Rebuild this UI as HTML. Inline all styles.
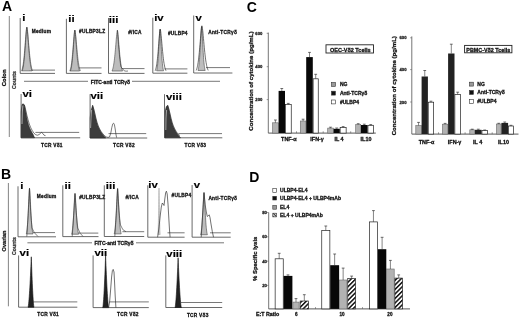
<!DOCTYPE html><html><head><meta charset="utf-8"><style>html,body{margin:0;padding:0;background:#fff;}svg{display:block;filter:blur(0.3px);}text{font-family:"Liberation Sans", sans-serif;}</style></head><body>
<svg width="520" height="319" viewBox="0 0 520 319">
<rect width="520" height="319" fill="#fff"/>
<defs><pattern id="hatch" patternUnits="userSpaceOnUse" width="3.2" height="3.2" patternTransform="rotate(45)"><rect width="3.2" height="3.2" fill="#fff"/><rect width="1.5" height="3.2" fill="#111"/></pattern><pattern id="hatch2" patternUnits="userSpaceOnUse" width="2.2" height="2.2" patternTransform="rotate(-45)"><rect width="2.2" height="2.2" fill="#fff"/><rect width="1.0" height="2.2" fill="#111"/></pattern></defs>
<text x="2" y="11.3" font-size="14" font-weight="bold" text-anchor="start" fill="#000">A</text>
<line x1="9.3" y1="16" x2="9.3" y2="137" stroke="#666" stroke-width="0.8"/>
<text x="6.0" y="77.8" font-size="6" font-weight="bold" text-anchor="middle" fill="#111" stroke="#111" stroke-width="0.28" transform="rotate(-90 6.0 77.8)">Colon</text>
<text x="16.2" y="80" font-size="5.2" font-weight="bold" text-anchor="middle" fill="#333" stroke="#333" stroke-width="0.28" transform="rotate(-90 16.2 80)">Counts</text>
<line x1="24" y1="81.3" x2="88" y2="81.3" stroke="#555" stroke-width="0.8"/>
<line x1="132" y1="81.3" x2="220" y2="81.3" stroke="#555" stroke-width="0.8"/>
<text x="110.4" y="83.6" font-size="5.0" font-weight="bold" text-anchor="middle" fill="#111" stroke="#111" stroke-width="0.28">FITC-anti TCRγδ</text>
<line x1="20.2" y1="18" x2="20.2" y2="73.4" stroke="#444" stroke-width="0.8"/>
<line x1="20.2" y1="73.4" x2="55" y2="73.4" stroke="#444" stroke-width="0.8"/>
<line x1="29" y1="70.1" x2="55" y2="70.1" stroke="#555" stroke-width="0.8"/>
<text transform="translate(22.3 21.3) scale(1.2 1)" font-size="9.5" font-weight="bold" fill="#000" stroke="#000" stroke-width="0.15">i</text>
<text x="31.700000000000003" y="32.8" font-size="4.8" font-weight="bold" text-anchor="start" fill="#111" stroke="#111" stroke-width="0.28" letter-spacing="0.25">Medium</text>
<line x1="66.4" y1="18.8" x2="66.4" y2="73.4" stroke="#444" stroke-width="0.8"/>
<line x1="66.4" y1="73.4" x2="101.5" y2="73.4" stroke="#444" stroke-width="0.8"/>
<line x1="78.5" y1="67.9" x2="101.5" y2="67.9" stroke="#555" stroke-width="0.8"/>
<text transform="translate(68.3 22) scale(1.2 1)" font-size="9.5" font-weight="bold" fill="#000" stroke="#000" stroke-width="0.15">ii</text>
<text x="79.1" y="33" font-size="4.8" font-weight="bold" text-anchor="start" fill="#111" stroke="#111" stroke-width="0.28" letter-spacing="0.25">#ULBP3LZ</text>
<line x1="108.5" y1="18" x2="108.5" y2="73.4" stroke="#444" stroke-width="0.8"/>
<line x1="108.5" y1="73.4" x2="144.5" y2="73.4" stroke="#444" stroke-width="0.8"/>
<line x1="120" y1="68.6" x2="144.5" y2="68.6" stroke="#555" stroke-width="0.8"/>
<text transform="translate(108.8 22.5) scale(1.2 1)" font-size="9.5" font-weight="bold" fill="#000" stroke="#000" stroke-width="0.15">iii</text>
<text x="128.2" y="34" font-size="4.8" font-weight="bold" text-anchor="start" fill="#111" stroke="#111" stroke-width="0.28" letter-spacing="0.25">#/ICA</text>
<line x1="152.8" y1="17.7" x2="152.8" y2="73.2" stroke="#444" stroke-width="0.8"/>
<line x1="152.8" y1="73.2" x2="187.4" y2="73.2" stroke="#444" stroke-width="0.8"/>
<line x1="164.5" y1="68.9" x2="187.4" y2="68.9" stroke="#555" stroke-width="0.8"/>
<text transform="translate(154.2 21.4) scale(1.2 1)" font-size="9.5" font-weight="bold" fill="#000" stroke="#000" stroke-width="0.15">iv</text>
<text x="167.9" y="34.5" font-size="4.8" font-weight="bold" text-anchor="start" fill="#111" stroke="#111" stroke-width="0.28" letter-spacing="0.25">#ULBP4</text>
<line x1="193.7" y1="15.5" x2="193.7" y2="73.0" stroke="#444" stroke-width="0.8"/>
<line x1="193.7" y1="73.0" x2="232.4" y2="73.0" stroke="#444" stroke-width="0.8"/>
<line x1="206" y1="67.6" x2="230" y2="67.6" stroke="#555" stroke-width="0.8"/>
<text transform="translate(195.6 21.4) scale(1.2 1)" font-size="9.5" font-weight="bold" fill="#000" stroke="#000" stroke-width="0.15">v</text>
<text x="208.2" y="34.4" font-size="4.8" font-weight="bold" text-anchor="start" fill="#111" stroke="#111" stroke-width="0.28" letter-spacing="0.25">Anti-TCRγδ</text>
<path d="M21.60,70.85 L21.82,70.32 L22.03,69.69 L22.25,68.95 L22.47,68.09 L22.68,67.11 L22.90,65.97 L23.12,64.69 L23.33,63.23 L23.55,61.60 L23.77,59.79 L23.98,57.79 L24.20,55.61 L24.42,53.26 L24.63,50.74 L24.85,48.08 L25.07,45.32 L25.28,42.48 L25.50,39.63 L25.72,36.82 L25.93,34.14 L26.15,31.68 L26.37,29.55 L26.58,27.92 L26.80,27.10 L27.02,27.92 L27.23,29.55 L27.45,31.68 L27.67,34.14 L27.88,36.82 L28.10,39.63 L28.32,42.48 L28.53,45.32 L28.75,48.08 L28.97,50.74 L29.18,53.26 L29.40,55.61 L29.62,57.79 L29.83,59.79 L30.05,61.60 L30.27,63.23 L30.48,64.69 L30.70,65.97 L30.92,67.11 L31.13,68.09 L31.35,68.95 L31.57,69.69 L31.78,70.32 L32.00,70.85 Z" fill="#bdbdbd" stroke="#444" stroke-width="0.6"/>
<path d="M22.20,70.86 L22.40,70.33 L22.59,69.70 L22.79,68.97 L22.98,68.12 L23.18,67.13 L23.38,66.01 L23.57,64.72 L23.77,63.27 L23.96,61.65 L24.16,59.85 L24.35,57.86 L24.55,55.69 L24.75,53.34 L24.94,50.84 L25.14,48.19 L25.33,45.44 L25.53,42.62 L25.72,39.78 L25.92,36.98 L26.12,34.31 L26.31,31.86 L26.51,29.74 L26.70,28.12 L26.90,27.30 L27.14,28.12 L27.38,29.74 L27.61,31.86 L27.85,34.31 L28.09,36.98 L28.32,39.78 L28.56,42.62 L28.80,45.44 L29.04,48.19 L29.27,50.84 L29.51,53.34 L29.75,55.69 L29.99,57.86 L30.23,59.85 L30.46,61.65 L30.70,63.27 L30.94,64.72 L31.18,66.01 L31.41,67.13 L31.65,68.12 L31.89,68.97 L32.12,69.70 L32.36,70.33 L32.60,70.86" fill="none" stroke="#333" stroke-width="0.55"/>
<path d="M69.80,71.01 L70.01,70.51 L70.22,69.92 L70.42,69.23 L70.63,68.43 L70.84,67.50 L71.05,66.44 L71.26,65.23 L71.47,63.87 L71.67,62.34 L71.88,60.64 L72.09,58.77 L72.30,56.73 L72.51,54.52 L72.72,52.16 L72.92,49.67 L73.13,47.08 L73.34,44.42 L73.55,41.74 L73.76,39.11 L73.97,36.60 L74.17,34.29 L74.38,32.30 L74.59,30.77 L74.80,30.00 L75.00,30.77 L75.20,32.30 L75.40,34.29 L75.60,36.60 L75.80,39.11 L76.00,41.74 L76.20,44.42 L76.40,47.08 L76.60,49.67 L76.80,52.16 L77.00,54.52 L77.20,56.73 L77.40,58.77 L77.60,60.64 L77.80,62.34 L78.00,63.87 L78.20,65.23 L78.40,66.44 L78.60,67.50 L78.80,68.43 L79.00,69.23 L79.20,69.92 L79.40,70.51 L79.60,71.01 Z" fill="#bdbdbd" stroke="#444" stroke-width="0.6"/>
<path d="M70.40,71.02 L70.59,70.52 L70.78,69.93 L70.96,69.25 L71.15,68.45 L71.34,67.53 L71.53,66.47 L71.71,65.27 L71.90,63.91 L72.09,62.39 L72.28,60.70 L72.46,58.84 L72.65,56.80 L72.84,54.61 L73.03,52.26 L73.21,49.78 L73.40,47.20 L73.59,44.55 L73.78,41.89 L73.96,39.27 L74.15,36.77 L74.34,34.47 L74.53,32.49 L74.71,30.97 L74.90,30.20 L75.13,30.97 L75.37,32.49 L75.60,34.47 L75.83,36.77 L76.07,39.27 L76.30,41.89 L76.53,44.55 L76.77,47.20 L77.00,49.78 L77.23,52.26 L77.47,54.61 L77.70,56.80 L77.93,58.84 L78.17,60.70 L78.40,62.39 L78.63,63.91 L78.87,65.27 L79.10,66.47 L79.33,67.53 L79.57,68.45 L79.80,69.25 L80.03,69.93 L80.27,70.52 L80.50,71.02" fill="none" stroke="#333" stroke-width="0.55"/>
<path d="M112.00,71.02 L112.22,70.52 L112.45,69.93 L112.67,69.25 L112.90,68.45 L113.12,67.53 L113.35,66.47 L113.58,65.27 L113.80,63.91 L114.03,62.39 L114.25,60.70 L114.48,58.84 L114.70,56.80 L114.92,54.61 L115.15,52.26 L115.38,49.78 L115.60,47.20 L115.83,44.55 L116.05,41.89 L116.28,39.27 L116.50,36.77 L116.73,34.47 L116.95,32.49 L117.18,30.97 L117.40,30.20 L117.62,30.97 L117.83,32.49 L118.05,34.47 L118.27,36.77 L118.48,39.27 L118.70,41.89 L118.92,44.55 L119.13,47.20 L119.35,49.78 L119.57,52.26 L119.78,54.61 L120.00,56.80 L120.22,58.84 L120.43,60.70 L120.65,62.39 L120.87,63.91 L121.08,65.27 L121.30,66.47 L121.52,67.53 L121.73,68.45 L121.95,69.25 L122.17,69.93 L122.38,70.52 L122.60,71.02 Z" fill="#bdbdbd" stroke="#444" stroke-width="0.6"/>
<path d="M117.4,30.2 C118.2,40 119.5,60 121,67 L122.5,68.6 L124.2,70.8 L126,71.2 L128,71" fill="none" stroke="#333" stroke-width="0.6"/>
<path d="M156.60,70.79 L156.74,70.29 L156.88,69.69 L157.03,69.00 L157.17,68.19 L157.31,67.26 L157.45,66.19 L157.59,64.97 L157.73,63.60 L157.88,62.06 L158.02,60.35 L158.16,58.47 L158.30,56.41 L158.44,54.19 L158.58,51.81 L158.72,49.31 L158.87,46.69 L159.01,44.02 L159.15,41.33 L159.29,38.68 L159.43,36.14 L159.57,33.82 L159.72,31.81 L159.86,30.28 L160.00,29.50 L160.15,30.28 L160.30,31.81 L160.45,33.82 L160.60,36.14 L160.75,38.68 L160.90,41.33 L161.05,44.02 L161.20,46.69 L161.35,49.31 L161.50,51.81 L161.65,54.19 L161.80,56.41 L161.95,58.47 L162.10,60.35 L162.25,62.06 L162.40,63.60 L162.55,64.97 L162.70,66.19 L162.85,67.26 L163.00,68.19 L163.15,69.00 L163.30,69.69 L163.45,70.29 L163.60,70.79 Z" fill="#bdbdbd" stroke="#444" stroke-width="0.6"/>
<path d="M155.20,70.77 L155.41,70.26 L155.62,69.65 L155.82,68.95 L156.03,68.13 L156.24,67.19 L156.45,66.11 L156.66,64.88 L156.87,63.49 L157.07,61.93 L157.28,60.20 L157.49,58.30 L157.70,56.22 L157.91,53.97 L158.12,51.57 L158.32,49.03 L158.53,46.39 L158.74,43.68 L158.95,40.96 L159.16,38.28 L159.37,35.72 L159.57,33.37 L159.78,31.34 L159.99,29.79 L160.20,29.00 L160.44,29.79 L160.68,31.34 L160.92,33.37 L161.17,35.72 L161.41,38.28 L161.65,40.96 L161.89,43.68 L162.13,46.39 L162.38,49.03 L162.62,51.57 L162.86,53.97 L163.10,56.22 L163.34,58.30 L163.58,60.20 L163.82,61.93 L164.07,63.49 L164.31,64.88 L164.55,66.11 L164.79,67.19 L165.03,68.13 L165.28,68.95 L165.52,69.65 L165.76,70.26 L166.00,70.77" fill="none" stroke="#222" stroke-width="0.65"/>
<path d="M198.00,70.44 L198.15,69.90 L198.30,69.27 L198.45,68.53 L198.60,67.67 L198.75,66.68 L198.90,65.54 L199.05,64.25 L199.20,62.79 L199.35,61.15 L199.50,59.33 L199.65,57.32 L199.80,55.13 L199.95,52.77 L200.10,50.24 L200.25,47.57 L200.40,44.80 L200.55,41.95 L200.70,39.08 L200.85,36.26 L201.00,33.57 L201.15,31.10 L201.30,28.96 L201.45,27.33 L201.60,26.50 L201.75,27.33 L201.90,28.96 L202.05,31.10 L202.20,33.57 L202.35,36.26 L202.50,39.08 L202.65,41.95 L202.80,44.80 L202.95,47.57 L203.10,50.24 L203.25,52.77 L203.40,55.13 L203.55,57.32 L203.70,59.33 L203.85,61.15 L204.00,62.79 L204.15,64.25 L204.30,65.54 L204.45,66.68 L204.60,67.67 L204.75,68.53 L204.90,69.27 L205.05,69.90 L205.20,70.44 Z" fill="#bdbdbd" stroke="#444" stroke-width="0.6"/>
<path d="M196.20,70.40 L196.44,69.86 L196.67,69.21 L196.91,68.46 L197.15,67.59 L197.39,66.58 L197.62,65.43 L197.86,64.12 L198.10,62.63 L198.34,60.97 L198.57,59.12 L198.81,57.09 L199.05,54.87 L199.29,52.46 L199.53,49.90 L199.76,47.19 L200.00,44.37 L200.24,41.48 L200.47,38.57 L200.71,35.71 L200.95,32.98 L201.19,30.47 L201.43,28.30 L201.66,26.64 L201.90,25.80 L202.16,26.64 L202.43,28.30 L202.69,30.47 L202.95,32.98 L203.21,35.71 L203.47,38.57 L203.74,41.48 L204.00,44.37 L204.26,47.19 L204.53,49.90 L204.79,52.46 L205.05,54.87 L205.31,57.09 L205.57,59.12 L205.84,60.97 L206.10,62.63 L206.36,64.12 L206.62,65.43 L206.89,66.58 L207.15,67.59 L207.41,68.46 L207.67,69.21 L207.94,69.86 L208.20,70.40" fill="none" stroke="#222" stroke-width="0.65"/>
<line x1="21.1" y1="94" x2="21.1" y2="137.8" stroke="#444" stroke-width="0.8"/>
<line x1="21.1" y1="137.8" x2="80.2" y2="137.8" stroke="#444" stroke-width="0.8"/>
<line x1="35.4" y1="132.4" x2="79.2" y2="132.4" stroke="#555" stroke-width="0.8"/>
<text transform="translate(22.4 96.8) scale(1.2 1)" font-size="9.5" font-weight="bold" fill="#000" stroke="#000" stroke-width="0.15">vi</text>
<text x="41.0" y="146.6" font-size="4.8" font-weight="bold" text-anchor="start" fill="#111" stroke="#111" stroke-width="0.28" letter-spacing="0.25">TCR Vδ1</text>
<line x1="90.1" y1="94.2" x2="90.1" y2="138.0" stroke="#444" stroke-width="0.8"/>
<line x1="90.1" y1="138.0" x2="147.2" y2="138.0" stroke="#444" stroke-width="0.8"/>
<line x1="108.5" y1="133.6" x2="146.2" y2="133.6" stroke="#555" stroke-width="0.8"/>
<text transform="translate(90.4 99.3) scale(1.2 1)" font-size="9.5" font-weight="bold" fill="#000" stroke="#000" stroke-width="0.15">vii</text>
<text x="113.1" y="146.8" font-size="4.8" font-weight="bold" text-anchor="start" fill="#111" stroke="#111" stroke-width="0.28" letter-spacing="0.25">TCR Vδ2</text>
<line x1="164.5" y1="94.2" x2="164.5" y2="137.8" stroke="#444" stroke-width="0.8"/>
<line x1="164.5" y1="137.8" x2="222.3" y2="137.8" stroke="#444" stroke-width="0.8"/>
<line x1="178.5" y1="133.6" x2="222" y2="133.6" stroke="#555" stroke-width="0.8"/>
<text transform="translate(166 100.3) scale(1.2 1)" font-size="9.5" font-weight="bold" fill="#000" stroke="#000" stroke-width="0.15">viii</text>
<text x="184.5" y="147" font-size="4.8" font-weight="bold" text-anchor="start" fill="#111" stroke="#111" stroke-width="0.28" letter-spacing="0.25">TCR Vδ3</text>
<path d="M21.1,137.8 L21.1,112 L22.0,104.5 L23.3,103.8 L24.4,105 L25.4,110 L26.4,115.5 L27.4,120.5 L28.5,124.8 L29.8,128.3 L31.3,131.3 L32.9,134 L34.6,137.8 Z" fill="#3c3c3c" stroke="#222" stroke-width="0.5"/>
<path d="M22.0,124 L22.3,112 L22.9,105.5" fill="none" stroke="#ddd" stroke-width="0.7"/>
<path d="M24.4,105 L25.6,109.5 L26.8,115 L28,119.5 L29.3,124 L30.8,127.8 L32.4,130.8 L34,133.2 L35.8,134.8 L37.5,135.2 L39,134.6 L40.5,133.3 L41.6,132.4 L42.8,133.5 L44,135.2 L45.5,135.6" fill="none" stroke="#222" stroke-width="0.6"/>
<path d="M90.1,138 L90.1,118 L91.2,110 L92.6,105.3 L93.6,109 L94.6,113.5 L95.6,118 L96.6,122 L97.7,125.5 L99,128.5 L100.5,131.3 L102.2,133.8 L104,136 L105.8,138 Z" fill="#3c3c3c" stroke="#222" stroke-width="0.5"/>
<path d="M90.6,128 L91,118 L91.6,110" fill="none" stroke="#ccc" stroke-width="0.7"/>
<path d="M92.6,105.3 L93.9,109.5 L95,114 L96,118.5 L97.1,122.5 L98.3,126 L99.7,129 L101.3,131.8 L103,134 L104.8,136 L106.5,137 L108,137.4 L109.5,137 L110.8,133 L111.8,127.5 L112.8,123.8 L113.6,123.2 L114.4,124.5 L115.2,129 L115.9,134 L116.6,137.6" fill="none" stroke="#222" stroke-width="0.6"/>
<path d="M164.9,137.8 L165.2,111 L166.3,106.5 L167.7,105.3 L168.7,109 L169.7,113.5 L170.7,118 L171.7,122 L172.8,125.5 L174.1,128.5 L175.6,131.3 L177.2,133.8 L179,136 L180.6,137.8 Z" fill="#3c3c3c" stroke="#222" stroke-width="0.5"/>
<path d="M165.8,130 L166,118 L166.6,110" fill="none" stroke="#ccc" stroke-width="0.7"/>
<path d="M167.7,105.3 L169,109.5 L170.1,114 L171.1,118.5 L172.2,122.5 L173.4,126 L174.8,129 L176.4,131.8 L178,134 L180,135.6" fill="none" stroke="#222" stroke-width="0.6"/>
<text x="1" y="179.3" font-size="14" font-weight="bold" text-anchor="start" fill="#000">B</text>
<line x1="8.4" y1="183" x2="8.4" y2="306.3" stroke="#666" stroke-width="0.8"/>
<text x="5.5" y="241" font-size="5.6" font-weight="bold" text-anchor="middle" fill="#111" stroke="#111" stroke-width="0.28" transform="rotate(-90 5.5 241)">Ovarian</text>
<text x="15.6" y="246" font-size="5.2" font-weight="bold" text-anchor="middle" fill="#333" stroke="#333" stroke-width="0.28" transform="rotate(-90 15.6 246)">Counts</text>
<line x1="27.4" y1="242.8" x2="92" y2="242.8" stroke="#555" stroke-width="0.8"/>
<line x1="136" y1="242.8" x2="224" y2="242.8" stroke="#555" stroke-width="0.8"/>
<text x="114" y="245.4" font-size="5.0" font-weight="bold" text-anchor="middle" fill="#111" stroke="#111" stroke-width="0.28">FITC-anti TCRγδ</text>
<line x1="18" y1="186.3" x2="18" y2="236.8" stroke="#444" stroke-width="0.8"/>
<line x1="18" y1="236.8" x2="56" y2="236.8" stroke="#444" stroke-width="0.8"/>
<line x1="33" y1="232.6" x2="55" y2="232.6" stroke="#555" stroke-width="0.8"/>
<text transform="translate(20.3 188.5) scale(1.2 1)" font-size="9.5" font-weight="bold" fill="#000" stroke="#000" stroke-width="0.15">i</text>
<text x="36.8" y="198.4" font-size="4.8" font-weight="bold" text-anchor="start" fill="#111" stroke="#111" stroke-width="0.28" letter-spacing="0.25">Medium</text>
<line x1="62.8" y1="185.3" x2="62.8" y2="236.6" stroke="#444" stroke-width="0.8"/>
<line x1="62.8" y1="236.6" x2="98.5" y2="236.6" stroke="#444" stroke-width="0.8"/>
<line x1="77.4" y1="233.1" x2="98.3" y2="233.1" stroke="#555" stroke-width="0.8"/>
<text transform="translate(64.6 189.3) scale(1.2 1)" font-size="9.5" font-weight="bold" fill="#000" stroke="#000" stroke-width="0.15">ii</text>
<text x="79.2" y="198.7" font-size="4.8" font-weight="bold" text-anchor="start" fill="#111" stroke="#111" stroke-width="0.28" letter-spacing="0.25">#ULBP3LZ</text>
<line x1="104.3" y1="185.3" x2="104.3" y2="236.5" stroke="#444" stroke-width="0.8"/>
<line x1="104.3" y1="236.5" x2="144.2" y2="236.5" stroke="#444" stroke-width="0.8"/>
<line x1="122.4" y1="231.7" x2="144.2" y2="231.7" stroke="#555" stroke-width="0.8"/>
<text transform="translate(105.8 189.3) scale(1.2 1)" font-size="9.5" font-weight="bold" fill="#000" stroke="#000" stroke-width="0.15">iii</text>
<text x="125.4" y="198.7" font-size="4.8" font-weight="bold" text-anchor="start" fill="#111" stroke="#111" stroke-width="0.28" letter-spacing="0.25">#/ICA</text>
<line x1="147.8" y1="185.3" x2="147.8" y2="237.2" stroke="#444" stroke-width="0.8"/>
<line x1="147.8" y1="237.2" x2="184.6" y2="237.2" stroke="#444" stroke-width="0.8"/>
<line x1="167.5" y1="232.8" x2="184.6" y2="232.8" stroke="#555" stroke-width="0.8"/>
<text transform="translate(148.3 187.9) scale(1.2 1)" font-size="9.5" font-weight="bold" fill="#000" stroke="#000" stroke-width="0.15">iv</text>
<text x="171.5" y="197.2" font-size="4.8" font-weight="bold" text-anchor="start" fill="#111" stroke="#111" stroke-width="0.28" letter-spacing="0.25">#ULBP4</text>
<line x1="192.1" y1="185" x2="192.1" y2="237.2" stroke="#444" stroke-width="0.8"/>
<line x1="192.1" y1="237.2" x2="230.7" y2="237.2" stroke="#444" stroke-width="0.8"/>
<line x1="210" y1="232.8" x2="230.7" y2="232.8" stroke="#555" stroke-width="0.8"/>
<text transform="translate(193.8 187.7) scale(1.2 1)" font-size="9.5" font-weight="bold" fill="#000" stroke="#000" stroke-width="0.15">v</text>
<text x="208.4" y="200" font-size="4.8" font-weight="bold" text-anchor="start" fill="#111" stroke="#111" stroke-width="0.28" letter-spacing="0.25">Anti-TCRγδ</text>
<path d="M26.30,233.94 L26.43,233.38 L26.57,232.73 L26.70,231.96 L26.83,231.06 L26.97,230.03 L27.10,228.85 L27.23,227.51 L27.37,225.99 L27.50,224.29 L27.63,222.40 L27.77,220.32 L27.90,218.04 L28.03,215.59 L28.17,212.96 L28.30,210.19 L28.43,207.30 L28.57,204.35 L28.70,201.37 L28.83,198.44 L28.97,195.64 L29.10,193.07 L29.23,190.86 L29.37,189.16 L29.50,188.30 L29.65,189.16 L29.79,190.86 L29.94,193.07 L30.08,195.64 L30.23,198.44 L30.38,201.37 L30.52,204.35 L30.67,207.30 L30.81,210.19 L30.96,212.96 L31.10,215.59 L31.25,218.04 L31.40,220.32 L31.54,222.40 L31.69,224.29 L31.83,225.99 L31.98,227.51 L32.12,228.85 L32.27,230.03 L32.42,231.06 L32.56,231.96 L32.71,232.73 L32.85,233.38 L33.00,233.94 Z" fill="#bdbdbd" stroke="#444" stroke-width="0.6"/>
<path d="M26.8,236.6 Q28.3,215 29.5,188.3 Q30.6,215 32,228 Q34,233.5 38,236.5" fill="none" stroke="#333" stroke-width="0.6"/>
<path d="M71.60,234.23 L71.74,233.73 L71.88,233.14 L72.02,232.46 L72.17,231.66 L72.31,230.74 L72.45,229.69 L72.59,228.49 L72.73,227.13 L72.88,225.62 L73.02,223.93 L73.16,222.07 L73.30,220.04 L73.44,217.85 L73.58,215.51 L73.72,213.03 L73.87,210.46 L74.01,207.82 L74.15,205.16 L74.29,202.55 L74.43,200.05 L74.58,197.76 L74.72,195.78 L74.86,194.27 L75.00,193.50 L75.15,194.27 L75.30,195.78 L75.45,197.76 L75.60,200.05 L75.75,202.55 L75.90,205.16 L76.05,207.82 L76.20,210.46 L76.35,213.03 L76.50,215.51 L76.65,217.85 L76.80,220.04 L76.95,222.07 L77.10,223.93 L77.25,225.62 L77.40,227.13 L77.55,228.49 L77.70,229.69 L77.85,230.74 L78.00,231.66 L78.15,232.46 L78.30,233.14 L78.45,233.73 L78.60,234.23 Z" fill="#bdbdbd" stroke="#444" stroke-width="0.6"/>
<path d="M72.2,236.6 Q73.8,215 75,193.5 Q76.2,215 77.8,228 Q80,234.5 83,236.4" fill="none" stroke="#333" stroke-width="0.6"/>
<path d="M114.20,233.86 L114.34,233.31 L114.48,232.66 L114.62,231.89 L114.77,231.01 L114.91,229.99 L115.05,228.82 L115.19,227.48 L115.33,225.98 L115.47,224.29 L115.62,222.42 L115.76,220.35 L115.90,218.10 L116.04,215.66 L116.18,213.06 L116.33,210.31 L116.47,207.45 L116.61,204.51 L116.75,201.56 L116.89,198.66 L117.03,195.88 L117.17,193.34 L117.32,191.14 L117.46,189.45 L117.60,188.60 L117.75,189.45 L117.90,191.14 L118.05,193.34 L118.20,195.88 L118.35,198.66 L118.50,201.56 L118.65,204.51 L118.80,207.45 L118.95,210.31 L119.10,213.06 L119.25,215.66 L119.40,218.10 L119.55,220.35 L119.70,222.42 L119.85,224.29 L120.00,225.98 L120.15,227.48 L120.30,228.82 L120.45,229.99 L120.60,231.01 L120.75,231.89 L120.90,232.66 L121.05,233.31 L121.20,233.86 Z" fill="#bdbdbd" stroke="#444" stroke-width="0.6"/>
<path d="M114.8,236.5 Q116.4,215 117.6,188.6 Q118.8,213 120.5,225 Q122.5,231 126,231.7" fill="none" stroke="#333" stroke-width="0.6"/>
<path d="M157.90,234.49 L157.95,233.92 L157.99,233.25 L158.04,232.47 L158.08,231.56 L158.13,230.51 L158.18,229.31 L158.22,227.94 L158.27,226.39 L158.31,224.66 L158.36,222.73 L158.40,220.61 L158.45,218.30 L158.50,215.79 L158.54,213.12 L158.59,210.30 L158.63,207.36 L158.68,204.35 L158.72,201.31 L158.77,198.33 L158.82,195.48 L158.86,192.86 L158.91,190.61 L158.95,188.88 L159.00,188.00 L159.05,188.88 L159.10,190.61 L159.15,192.86 L159.20,195.48 L159.25,198.33 L159.30,201.31 L159.35,204.35 L159.40,207.36 L159.45,210.30 L159.50,213.12 L159.55,215.79 L159.60,218.30 L159.65,220.61 L159.70,222.73 L159.75,224.66 L159.80,226.39 L159.85,227.94 L159.90,229.31 L159.95,230.51 L160.00,231.56 L160.05,232.47 L160.10,233.25 L160.15,233.92 L160.20,234.49 Z" fill="#ccc" stroke="#999" stroke-width="0.5"/>
<path d="M157.6,237.2 L158.8,229 L160.2,216 L161.3,207 L162.3,203 L163.3,204.3 L164,205.5 L164.8,199 L165.7,192.5 L166.4,191.2 L167.2,194 L168,204 L168.8,218 L169.5,230 L170.1,237.2" fill="none" stroke="#333" stroke-width="0.7"/>
<path d="M200.60,234.75 L200.74,234.23 L200.88,233.62 L201.03,232.91 L201.17,232.09 L201.31,231.14 L201.45,230.05 L201.59,228.81 L201.73,227.40 L201.88,225.83 L202.02,224.09 L202.16,222.16 L202.30,220.06 L202.44,217.80 L202.58,215.37 L202.72,212.81 L202.87,210.15 L203.01,207.42 L203.15,204.67 L203.29,201.97 L203.43,199.38 L203.57,197.01 L203.72,194.96 L203.86,193.39 L204.00,192.60 L204.14,193.39 L204.28,194.96 L204.43,197.01 L204.57,199.38 L204.71,201.97 L204.85,204.67 L204.99,207.42 L205.13,210.15 L205.28,212.81 L205.42,215.37 L205.56,217.80 L205.70,220.06 L205.84,222.16 L205.98,224.09 L206.12,225.83 L206.27,227.40 L206.41,228.81 L206.55,230.05 L206.69,231.14 L206.83,232.09 L206.97,232.91 L207.12,233.62 L207.26,234.23 L207.40,234.75 Z" fill="#bdbdbd" stroke="#444" stroke-width="0.6"/>
<path d="M201.2,237.2 L202.6,215 L204,192.6 L205.2,205 L206.3,212 L207.3,216.5 L208.2,215.8 L209.2,214.8 L210,217.5 L211,224 L212.3,231.5 L213.5,237.2" fill="none" stroke="#333" stroke-width="0.7"/>
<line x1="18.6" y1="255.4" x2="18.6" y2="307.2" stroke="#444" stroke-width="0.8"/>
<line x1="18.6" y1="307.2" x2="77.3" y2="307.2" stroke="#444" stroke-width="0.8"/>
<line x1="33.2" y1="301.9" x2="77.3" y2="301.9" stroke="#555" stroke-width="0.8"/>
<text transform="translate(19.6 256) scale(1.2 1)" font-size="9.5" font-weight="bold" fill="#000" stroke="#000" stroke-width="0.15">vi</text>
<text x="37.3" y="315.8" font-size="4.8" font-weight="bold" text-anchor="start" fill="#111" stroke="#111" stroke-width="0.28" letter-spacing="0.25">TCR Vδ1</text>
<line x1="93.1" y1="255.4" x2="93.1" y2="307.6" stroke="#444" stroke-width="0.8"/>
<line x1="93.1" y1="307.6" x2="148.8" y2="307.6" stroke="#444" stroke-width="0.8"/>
<line x1="109.4" y1="301.9" x2="148.8" y2="301.9" stroke="#555" stroke-width="0.8"/>
<text transform="translate(94.5 256.2) scale(1.2 1)" font-size="9.5" font-weight="bold" fill="#000" stroke="#000" stroke-width="0.15">vii</text>
<text x="117.0" y="316" font-size="4.8" font-weight="bold" text-anchor="start" fill="#111" stroke="#111" stroke-width="0.28" letter-spacing="0.25">TCR Vδ2</text>
<line x1="165.8" y1="255.4" x2="165.8" y2="307.5" stroke="#444" stroke-width="0.8"/>
<line x1="165.8" y1="307.5" x2="222.2" y2="307.5" stroke="#444" stroke-width="0.8"/>
<line x1="180.9" y1="302.5" x2="222.2" y2="302.5" stroke="#555" stroke-width="0.8"/>
<text transform="translate(166.3 256.6) scale(1.2 1)" font-size="9.5" font-weight="bold" fill="#000" stroke="#000" stroke-width="0.15">viii</text>
<text x="186.9" y="316.5" font-size="4.8" font-weight="bold" text-anchor="start" fill="#111" stroke="#111" stroke-width="0.28" letter-spacing="0.25">TCR Vδ3</text>
<path d="M28.00,307.20 L28.21,306.60 L28.41,305.39 L28.62,303.74 L28.82,301.72 L29.03,299.36 L29.24,296.71 L29.44,293.77 L29.65,290.57 L29.86,287.13 L30.06,283.44 L30.27,279.53 L30.48,275.39 L30.68,271.05 L30.89,266.50 L31.09,261.74 L31.30,256.80 L31.47,261.74 L31.64,266.50 L31.81,271.05 L31.98,275.39 L32.14,279.53 L32.31,283.44 L32.48,287.13 L32.65,290.57 L32.82,293.77 L32.99,296.71 L33.16,299.36 L33.33,301.72 L33.49,303.74 L33.66,305.39 L33.83,306.60 L34.00,307.20 Z" fill="#222" stroke="#111" stroke-width="0.6"/>
<path d="M102.70,307.60 L102.88,306.98 L103.06,305.73 L103.24,304.02 L103.42,301.92 L103.61,299.48 L103.79,296.73 L103.97,293.69 L104.15,290.38 L104.33,286.81 L104.51,282.99 L104.69,278.94 L104.88,274.66 L105.06,270.16 L105.24,265.44 L105.42,260.52 L105.60,255.40 L105.79,260.52 L105.99,265.44 L106.18,270.16 L106.38,274.66 L106.57,278.94 L106.76,282.99 L106.96,286.81 L107.15,290.38 L107.34,293.69 L107.54,296.73 L107.73,299.48 L107.92,301.92 L108.12,304.02 L108.31,305.73 L108.51,306.98 L108.70,307.60 Z" fill="#222" stroke="#111" stroke-width="0.6"/>
<path d="M108.6,307.6 L109.6,302 L110.6,290 L111.6,277 L112.4,270.5 L113.2,269.4 L114,272 L114.6,283 L115.2,296 L115.9,307.6" fill="none" stroke="#333" stroke-width="0.7"/>
<path d="M175.00,307.50 L175.19,306.91 L175.39,305.72 L175.58,304.09 L175.78,302.09 L175.97,299.77 L176.16,297.15 L176.36,294.26 L176.55,291.11 L176.74,287.71 L176.94,284.07 L177.13,280.21 L177.32,276.13 L177.52,271.85 L177.71,267.36 L177.91,262.68 L178.10,257.80 L178.31,262.68 L178.51,267.36 L178.72,271.85 L178.93,276.13 L179.13,280.21 L179.34,284.07 L179.54,287.71 L179.75,291.11 L179.96,294.26 L180.16,297.15 L180.37,299.77 L180.57,302.09 L180.78,304.09 L180.99,305.72 L181.19,306.91 L181.40,307.50 Z" fill="#222" stroke="#111" stroke-width="0.6"/>
<text x="246.7" y="11.8" font-size="14" font-weight="bold" text-anchor="start" fill="#000">C</text>
<line x1="268.3" y1="32.6" x2="268.3" y2="133.1" stroke="#666" stroke-width="0.9"/>
<line x1="268.3" y1="133.1" x2="375.8" y2="133.1" stroke="#444" stroke-width="0.9"/>
<line x1="296.5" y1="131.29999999999998" x2="296.5" y2="133.1" stroke="#555" stroke-width="0.6"/>
<line x1="323.2" y1="131.29999999999998" x2="323.2" y2="133.1" stroke="#555" stroke-width="0.6"/>
<line x1="350.7" y1="131.29999999999998" x2="350.7" y2="133.1" stroke="#555" stroke-width="0.6"/>
<line x1="266.7" y1="33.3" x2="268.3" y2="33.3" stroke="#666" stroke-width="0.7"/>
<text x="262.3" y="34.8" font-size="4.2" font-weight="bold" text-anchor="end" fill="#222" stroke="#222" stroke-width="0.28" font-family="Liberation Serif, serif">600</text>
<line x1="266.7" y1="66.7" x2="268.3" y2="66.7" stroke="#666" stroke-width="0.7"/>
<text x="262.3" y="68.2" font-size="4.2" font-weight="bold" text-anchor="end" fill="#222" stroke="#222" stroke-width="0.28" font-family="Liberation Serif, serif">400</text>
<line x1="266.7" y1="99.6" x2="268.3" y2="99.6" stroke="#666" stroke-width="0.7"/>
<text x="262.3" y="101.1" font-size="4.2" font-weight="bold" text-anchor="end" fill="#222" stroke="#222" stroke-width="0.28" font-family="Liberation Serif, serif">200</text>
<rect x="272.5" y="122.8" width="5.8000000000000345" height="10.299999999999997" fill="#b2b2b2" stroke="#6a6a6a" stroke-width="0.6"/>
<line x1="275.4" y1="120.0" x2="275.4" y2="122.8" stroke="#333" stroke-width="0.6"/>
<line x1="274.0" y1="120.0" x2="276.79999999999995" y2="120.0" stroke="#333" stroke-width="0.7"/>
<rect x="278.6" y="90.9" width="6.399999999999977" height="42.19999999999999" fill="#080808" stroke="none" stroke-width="0.7"/>
<line x1="281.8" y1="88.5" x2="281.8" y2="90.9" stroke="#333" stroke-width="0.6"/>
<line x1="280.40000000000003" y1="88.5" x2="283.2" y2="88.5" stroke="#333" stroke-width="0.7"/>
<rect x="285.35" y="104.4" width="5.900000000000023" height="28.69999999999999" fill="#fff" stroke="#222" stroke-width="0.7"/>
<line x1="288.3" y1="103.4" x2="288.3" y2="104.4" stroke="#333" stroke-width="0.6"/>
<line x1="286.90000000000003" y1="103.4" x2="289.7" y2="103.4" stroke="#333" stroke-width="0.7"/>
<rect x="300.3" y="121.0" width="5.599999999999989" height="12.099999999999994" fill="#b2b2b2" stroke="#6a6a6a" stroke-width="0.6"/>
<line x1="303.1" y1="119.2" x2="303.1" y2="121.0" stroke="#333" stroke-width="0.6"/>
<line x1="301.70000000000005" y1="119.2" x2="304.5" y2="119.2" stroke="#333" stroke-width="0.7"/>
<rect x="306.2" y="57.1" width="6.600000000000023" height="76.0" fill="#080808" stroke="none" stroke-width="0.7"/>
<line x1="309.5" y1="52.4" x2="309.5" y2="57.1" stroke="#333" stroke-width="0.6"/>
<line x1="308.1" y1="52.4" x2="310.9" y2="52.4" stroke="#333" stroke-width="0.7"/>
<rect x="313.15000000000003" y="78.8" width="5.100000000000011" height="54.3" fill="#fff" stroke="#222" stroke-width="0.7"/>
<line x1="315.70000000000005" y1="74.3" x2="315.70000000000005" y2="78.8" stroke="#333" stroke-width="0.6"/>
<line x1="314.30000000000007" y1="74.3" x2="317.1" y2="74.3" stroke="#333" stroke-width="0.7"/>
<rect x="327.7" y="128.1" width="5.600000000000046" height="5.0" fill="#b2b2b2" stroke="#6a6a6a" stroke-width="0.6"/>
<line x1="330.5" y1="127.2" x2="330.5" y2="128.1" stroke="#333" stroke-width="0.6"/>
<line x1="329.1" y1="127.2" x2="331.9" y2="127.2" stroke="#333" stroke-width="0.7"/>
<rect x="333.6" y="128.8" width="6.199999999999989" height="4.299999999999983" fill="#080808" stroke="none" stroke-width="0.7"/>
<line x1="336.70000000000005" y1="128" x2="336.70000000000005" y2="128.8" stroke="#333" stroke-width="0.6"/>
<line x1="335.30000000000007" y1="128" x2="338.1" y2="128" stroke="#333" stroke-width="0.7"/>
<rect x="340.15000000000003" y="127.4" width="5.9999999999999885" height="5.699999999999989" fill="#fff" stroke="#222" stroke-width="0.7"/>
<line x1="343.15" y1="126.6" x2="343.15" y2="127.4" stroke="#333" stroke-width="0.6"/>
<line x1="341.75" y1="126.6" x2="344.54999999999995" y2="126.6" stroke="#333" stroke-width="0.7"/>
<rect x="355.7" y="124.5" width="5.000000000000023" height="8.599999999999994" fill="#b2b2b2" stroke="#6a6a6a" stroke-width="0.6"/>
<line x1="358.2" y1="123.7" x2="358.2" y2="124.5" stroke="#333" stroke-width="0.6"/>
<line x1="356.8" y1="123.7" x2="359.59999999999997" y2="123.7" stroke="#333" stroke-width="0.7"/>
<rect x="361.0" y="125.0" width="6.600000000000023" height="8.099999999999994" fill="#080808" stroke="none" stroke-width="0.7"/>
<line x1="364.3" y1="124.2" x2="364.3" y2="125.0" stroke="#333" stroke-width="0.6"/>
<line x1="362.90000000000003" y1="124.2" x2="365.7" y2="124.2" stroke="#333" stroke-width="0.7"/>
<rect x="367.95000000000005" y="125.3" width="5.4999999999999885" height="7.799999999999997" fill="#fff" stroke="#222" stroke-width="0.7"/>
<line x1="370.70000000000005" y1="124.6" x2="370.70000000000005" y2="125.3" stroke="#333" stroke-width="0.6"/>
<line x1="369.30000000000007" y1="124.6" x2="372.1" y2="124.6" stroke="#333" stroke-width="0.7"/>
<text x="288.9" y="141.3" font-size="5.4" font-weight="bold" text-anchor="middle" fill="#111" stroke="#111" stroke-width="0.28" font-family="Liberation Serif, serif">TNF-α</text>
<text x="317.1" y="141.3" font-size="5.4" font-weight="bold" text-anchor="middle" fill="#111" stroke="#111" stroke-width="0.28" font-family="Liberation Serif, serif">IFN-γ</text>
<text x="339" y="141.3" font-size="5.4" font-weight="bold" text-anchor="middle" fill="#111" stroke="#111" stroke-width="0.28" font-family="Liberation Serif, serif">IL 4</text>
<text x="366" y="141.3" font-size="5.4" font-weight="bold" text-anchor="middle" fill="#111" stroke="#111" stroke-width="0.28" font-family="Liberation Serif, serif">IL10</text>
<text x="253.4" y="81.1" font-size="6.1" font-weight="bold" text-anchor="middle" fill="#111" stroke="#111" stroke-width="0.28" transform="rotate(-90 253.4 81.1)">Concentration of cytokine (pg/mL)</text>
<rect x="326.0" y="44.8" width="47.5" height="8.2" fill="#fff" stroke="#222" stroke-width="0.9"/>
<text x="350.3" y="51.6" font-size="5.5" font-weight="bold" text-anchor="middle" fill="#111" stroke="#111" stroke-width="0.28">OEC-Vδ2 Tcells</text>
<rect x="331.5" y="82.5" width="3.9" height="3.9" fill="#9a9a9a" stroke="#333" stroke-width="0.6"/>
<text x="339.9" y="86.2" font-size="5.0" font-weight="bold" text-anchor="start" fill="#111" stroke="#111" stroke-width="0.28">NG</text>
<rect x="331.5" y="91.19999999999999" width="3.9" height="3.9" fill="#111" stroke="#333" stroke-width="0.6"/>
<text x="339.9" y="94.89999999999999" font-size="5.0" font-weight="bold" text-anchor="start" fill="#111" stroke="#111" stroke-width="0.28">Anti-TCRγδ</text>
<rect x="331.5" y="100.0" width="3.9" height="3.9" fill="#fff" stroke="#333" stroke-width="0.6"/>
<text x="339.9" y="103.7" font-size="5.0" font-weight="bold" text-anchor="start" fill="#111" stroke="#111" stroke-width="0.28">#ULBP4</text>
<line x1="411.8" y1="36.4" x2="411.8" y2="134.1" stroke="#666" stroke-width="0.9"/>
<line x1="411.8" y1="134.1" x2="518.5" y2="134.1" stroke="#444" stroke-width="0.9"/>
<line x1="438.5" y1="132.29999999999998" x2="438.5" y2="134.1" stroke="#555" stroke-width="0.6"/>
<line x1="465.1" y1="132.29999999999998" x2="465.1" y2="134.1" stroke="#555" stroke-width="0.6"/>
<line x1="492.2" y1="132.29999999999998" x2="492.2" y2="134.1" stroke="#555" stroke-width="0.6"/>
<line x1="410.2" y1="37.8" x2="411.8" y2="37.8" stroke="#666" stroke-width="0.7"/>
<text x="406.5" y="39.3" font-size="4.2" font-weight="bold" text-anchor="end" fill="#222" stroke="#222" stroke-width="0.28" font-family="Liberation Serif, serif">600</text>
<line x1="410.2" y1="69.6" x2="411.8" y2="69.6" stroke="#666" stroke-width="0.7"/>
<text x="406.5" y="71.1" font-size="4.2" font-weight="bold" text-anchor="end" fill="#222" stroke="#222" stroke-width="0.28" font-family="Liberation Serif, serif">400</text>
<line x1="410.2" y1="102.0" x2="411.8" y2="102.0" stroke="#666" stroke-width="0.7"/>
<text x="406.5" y="103.5" font-size="4.2" font-weight="bold" text-anchor="end" fill="#222" stroke="#222" stroke-width="0.28" font-family="Liberation Serif, serif">200</text>
<rect x="415.8" y="125.5" width="5.500000000000023" height="8.599999999999994" fill="#b2b2b2" stroke="#6a6a6a" stroke-width="0.6"/>
<line x1="418.55" y1="122.4" x2="418.55" y2="125.5" stroke="#333" stroke-width="0.6"/>
<line x1="417.15000000000003" y1="122.4" x2="419.95" y2="122.4" stroke="#333" stroke-width="0.7"/>
<rect x="421.6" y="76.5" width="6.2999999999999545" height="57.599999999999994" fill="#222" stroke="none" stroke-width="0.7"/>
<line x1="424.75" y1="70.5" x2="424.75" y2="76.5" stroke="#333" stroke-width="0.6"/>
<line x1="423.35" y1="70.5" x2="426.15" y2="70.5" stroke="#333" stroke-width="0.7"/>
<rect x="428.25" y="102.2" width="5.400000000000023" height="31.89999999999999" fill="#fff" stroke="#222" stroke-width="0.7"/>
<line x1="430.95" y1="101.2" x2="430.95" y2="102.2" stroke="#333" stroke-width="0.6"/>
<line x1="429.55" y1="101.2" x2="432.34999999999997" y2="101.2" stroke="#333" stroke-width="0.7"/>
<rect x="442.40000000000003" y="124.2" width="5.4" height="9.899999999999991" fill="#b2b2b2" stroke="#6a6a6a" stroke-width="0.6"/>
<line x1="445.1" y1="123.4" x2="445.1" y2="124.2" stroke="#333" stroke-width="0.6"/>
<line x1="443.70000000000005" y1="123.4" x2="446.5" y2="123.4" stroke="#333" stroke-width="0.7"/>
<rect x="448.1" y="53.5" width="6.399999999999977" height="80.6" fill="#222" stroke="none" stroke-width="0.7"/>
<line x1="451.3" y1="44.2" x2="451.3" y2="53.5" stroke="#333" stroke-width="0.6"/>
<line x1="449.90000000000003" y1="44.2" x2="452.7" y2="44.2" stroke="#333" stroke-width="0.7"/>
<rect x="454.85" y="94.4" width="5.600000000000011" height="39.69999999999999" fill="#fff" stroke="#222" stroke-width="0.7"/>
<line x1="457.65" y1="92.2" x2="457.65" y2="94.4" stroke="#333" stroke-width="0.6"/>
<line x1="456.25" y1="92.2" x2="459.04999999999995" y2="92.2" stroke="#333" stroke-width="0.7"/>
<rect x="469.8" y="129.8" width="4.9" height="4.299999999999983" fill="#b2b2b2" stroke="#6a6a6a" stroke-width="0.6"/>
<line x1="472.25" y1="129.2" x2="472.25" y2="129.8" stroke="#333" stroke-width="0.6"/>
<line x1="470.85" y1="129.2" x2="473.65" y2="129.2" stroke="#333" stroke-width="0.7"/>
<rect x="475.0" y="129.8" width="6.600000000000023" height="4.299999999999983" fill="#222" stroke="none" stroke-width="0.7"/>
<line x1="478.3" y1="129.2" x2="478.3" y2="129.8" stroke="#333" stroke-width="0.6"/>
<line x1="476.90000000000003" y1="129.2" x2="479.7" y2="129.2" stroke="#333" stroke-width="0.7"/>
<rect x="481.95000000000005" y="130.5" width="5.4999999999999885" height="3.5999999999999943" fill="#fff" stroke="#222" stroke-width="0.7"/>
<line x1="484.70000000000005" y1="130" x2="484.70000000000005" y2="130.5" stroke="#333" stroke-width="0.6"/>
<line x1="483.30000000000007" y1="130" x2="486.1" y2="130" stroke="#333" stroke-width="0.7"/>
<rect x="496.40000000000003" y="124.0" width="4.699999999999955" height="10.099999999999994" fill="#b2b2b2" stroke="#6a6a6a" stroke-width="0.6"/>
<line x1="498.75" y1="123.3" x2="498.75" y2="124.0" stroke="#333" stroke-width="0.6"/>
<line x1="497.35" y1="123.3" x2="500.15" y2="123.3" stroke="#333" stroke-width="0.7"/>
<rect x="501.4" y="122.9" width="6.7000000000000455" height="11.199999999999989" fill="#222" stroke="none" stroke-width="0.7"/>
<line x1="504.75" y1="122" x2="504.75" y2="122.9" stroke="#333" stroke-width="0.6"/>
<line x1="503.35" y1="122" x2="506.15" y2="122" stroke="#333" stroke-width="0.7"/>
<rect x="508.45000000000005" y="126.0" width="4.999999999999932" height="8.099999999999994" fill="#fff" stroke="#222" stroke-width="0.7"/>
<line x1="510.95" y1="125.3" x2="510.95" y2="126.0" stroke="#333" stroke-width="0.6"/>
<line x1="509.55" y1="125.3" x2="512.35" y2="125.3" stroke="#333" stroke-width="0.7"/>
<text x="426.6" y="144.2" font-size="5.4" font-weight="bold" text-anchor="middle" fill="#111" stroke="#111" stroke-width="0.28" font-family="Liberation Serif, serif">TNF-α</text>
<text x="454.6" y="144.2" font-size="5.4" font-weight="bold" text-anchor="middle" fill="#111" stroke="#111" stroke-width="0.28" font-family="Liberation Serif, serif">IFN-γ</text>
<text x="477.6" y="144.2" font-size="5.4" font-weight="bold" text-anchor="middle" fill="#111" stroke="#111" stroke-width="0.28" font-family="Liberation Serif, serif">IL 4</text>
<text x="503.5" y="144.2" font-size="5.4" font-weight="bold" text-anchor="middle" fill="#111" stroke="#111" stroke-width="0.28" font-family="Liberation Serif, serif">IL10</text>
<text x="396.4" y="85.7" font-size="6.1" font-weight="bold" text-anchor="middle" fill="#111" stroke="#111" stroke-width="0.28" transform="rotate(-90 396.4 85.7)">Concentration of cytokine (pg/mL)</text>
<rect x="464.6" y="45.4" width="47.3" height="7.4" fill="#fff" stroke="#222" stroke-width="0.9"/>
<text x="488.3" y="51.5" font-size="5.4" font-weight="bold" text-anchor="middle" fill="#111" stroke="#111" stroke-width="0.28">PBMC-Vδ2 Tcells</text>
<rect x="469.5" y="82.19999999999999" width="3.9" height="3.9" fill="#9a9a9a" stroke="#333" stroke-width="0.6"/>
<text x="477.3" y="85.89999999999999" font-size="5.0" font-weight="bold" text-anchor="start" fill="#111" stroke="#111" stroke-width="0.28">NG</text>
<rect x="469.5" y="90.5" width="3.9" height="3.9" fill="#111" stroke="#333" stroke-width="0.6"/>
<text x="477.3" y="94.2" font-size="5.0" font-weight="bold" text-anchor="start" fill="#111" stroke="#111" stroke-width="0.28">Anti-TCRγδ</text>
<rect x="469.5" y="99.5" width="3.9" height="3.9" fill="#fff" stroke="#333" stroke-width="0.6"/>
<text x="477.3" y="103.2" font-size="5.0" font-weight="bold" text-anchor="start" fill="#111" stroke="#111" stroke-width="0.28">#ULBP4</text>
<text x="249.3" y="181.5" font-size="14" font-weight="bold" text-anchor="start" fill="#000">D</text>
<line x1="268.7" y1="212.5" x2="268.7" y2="308.9" stroke="#666" stroke-width="0.9"/>
<line x1="268.7" y1="308.9" x2="410" y2="308.9" stroke="#444" stroke-width="0.9"/>
<line x1="315.5" y1="307.09999999999997" x2="315.5" y2="308.9" stroke="#555" stroke-width="0.6"/>
<line x1="362.5" y1="307.09999999999997" x2="362.5" y2="308.9" stroke="#555" stroke-width="0.6"/>
<line x1="267.09999999999997" y1="212.5" x2="268.7" y2="212.5" stroke="#666" stroke-width="0.7"/>
<text x="266.8" y="214.0" font-size="4.2" font-weight="bold" text-anchor="end" fill="#222" stroke="#222" stroke-width="0.28" font-family="Liberation Serif, serif">80</text>
<line x1="267.09999999999997" y1="236.8" x2="268.7" y2="236.8" stroke="#666" stroke-width="0.7"/>
<text x="266.8" y="238.3" font-size="4.2" font-weight="bold" text-anchor="end" fill="#222" stroke="#222" stroke-width="0.28" font-family="Liberation Serif, serif">60</text>
<line x1="267.09999999999997" y1="261.2" x2="268.7" y2="261.2" stroke="#666" stroke-width="0.7"/>
<text x="266.8" y="262.7" font-size="4.2" font-weight="bold" text-anchor="end" fill="#222" stroke="#222" stroke-width="0.28" font-family="Liberation Serif, serif">40</text>
<line x1="267.09999999999997" y1="285.4" x2="268.7" y2="285.4" stroke="#666" stroke-width="0.7"/>
<text x="266.8" y="286.9" font-size="4.2" font-weight="bold" text-anchor="end" fill="#222" stroke="#222" stroke-width="0.28" font-family="Liberation Serif, serif">20</text>
<rect x="275.15000000000003" y="258.8" width="8.100000000000012" height="50.099999999999966" fill="#fff" stroke="#222" stroke-width="0.7"/>
<line x1="279.20000000000005" y1="253.3" x2="279.20000000000005" y2="258.8" stroke="#333" stroke-width="0.6"/>
<line x1="277.80000000000007" y1="253.3" x2="280.6" y2="253.3" stroke="#333" stroke-width="0.7"/>
<rect x="283.6" y="275.9" width="8.799999999999955" height="33.0" fill="#080808" stroke="none" stroke-width="0.7"/>
<line x1="288.0" y1="274.9" x2="288.0" y2="275.9" stroke="#333" stroke-width="0.6"/>
<line x1="286.6" y1="274.9" x2="289.4" y2="274.9" stroke="#333" stroke-width="0.7"/>
<rect x="292.90000000000003" y="302.1" width="6.199999999999955" height="6.7999999999999545" fill="#b2b2b2" stroke="#6a6a6a" stroke-width="0.6"/>
<line x1="296.0" y1="298.6" x2="296.0" y2="302.1" stroke="#333" stroke-width="0.6"/>
<line x1="294.6" y1="298.6" x2="297.4" y2="298.6" stroke="#333" stroke-width="0.7"/>
<rect x="300.15000000000003" y="301.0" width="8.3" height="7.899999999999977" fill="url(#hatch)" stroke="#222" stroke-width="0.7"/>
<line x1="304.3" y1="294.7" x2="304.3" y2="301.0" stroke="#333" stroke-width="0.6"/>
<line x1="302.90000000000003" y1="294.7" x2="305.7" y2="294.7" stroke="#333" stroke-width="0.7"/>
<rect x="321.75" y="230.4" width="8.100000000000012" height="78.49999999999997" fill="#fff" stroke="#222" stroke-width="0.7"/>
<line x1="325.79999999999995" y1="226.0" x2="325.79999999999995" y2="230.4" stroke="#333" stroke-width="0.6"/>
<line x1="324.4" y1="226.0" x2="327.19999999999993" y2="226.0" stroke="#333" stroke-width="0.7"/>
<rect x="330.2" y="265.2" width="8.900000000000034" height="43.69999999999999" fill="#080808" stroke="none" stroke-width="0.7"/>
<line x1="334.65" y1="254.0" x2="334.65" y2="265.2" stroke="#333" stroke-width="0.6"/>
<line x1="333.25" y1="254.0" x2="336.04999999999995" y2="254.0" stroke="#333" stroke-width="0.7"/>
<rect x="339.40000000000003" y="280.0" width="7.499999999999966" height="28.899999999999977" fill="#b2b2b2" stroke="#6a6a6a" stroke-width="0.6"/>
<line x1="343.15" y1="268.1" x2="343.15" y2="280.0" stroke="#333" stroke-width="0.6"/>
<line x1="341.75" y1="268.1" x2="344.54999999999995" y2="268.1" stroke="#333" stroke-width="0.7"/>
<rect x="347.75" y="278.5" width="7.8" height="30.399999999999977" fill="url(#hatch)" stroke="#222" stroke-width="0.7"/>
<line x1="351.65" y1="276.1" x2="351.65" y2="278.5" stroke="#333" stroke-width="0.6"/>
<line x1="350.25" y1="276.1" x2="353.04999999999995" y2="276.1" stroke="#333" stroke-width="0.7"/>
<rect x="369.35" y="221.9" width="8.199999999999978" height="86.99999999999997" fill="#fff" stroke="#222" stroke-width="0.7"/>
<line x1="373.45" y1="210.6" x2="373.45" y2="221.9" stroke="#333" stroke-width="0.6"/>
<line x1="372.05" y1="210.6" x2="374.84999999999997" y2="210.6" stroke="#333" stroke-width="0.7"/>
<rect x="377.9" y="249.2" width="8.400000000000034" height="59.69999999999999" fill="#080808" stroke="none" stroke-width="0.7"/>
<line x1="382.1" y1="237.3" x2="382.1" y2="249.2" stroke="#333" stroke-width="0.6"/>
<line x1="380.70000000000005" y1="237.3" x2="383.5" y2="237.3" stroke="#333" stroke-width="0.7"/>
<rect x="386.6" y="269.0" width="7.599999999999989" height="39.89999999999998" fill="#b2b2b2" stroke="#6a6a6a" stroke-width="0.6"/>
<line x1="390.4" y1="260.4" x2="390.4" y2="269.0" stroke="#333" stroke-width="0.6"/>
<line x1="389.0" y1="260.4" x2="391.79999999999995" y2="260.4" stroke="#333" stroke-width="0.7"/>
<rect x="394.85" y="278.1" width="7.699999999999977" height="30.799999999999955" fill="url(#hatch)" stroke="#222" stroke-width="0.7"/>
<line x1="398.7" y1="274.9" x2="398.7" y2="278.1" stroke="#333" stroke-width="0.6"/>
<line x1="397.3" y1="274.9" x2="400.09999999999997" y2="274.9" stroke="#333" stroke-width="0.7"/>
<text x="296.2" y="315.9" font-size="4.6" font-weight="bold" text-anchor="middle" fill="#111" stroke="#111" stroke-width="0.28" font-family="Liberation Serif, serif">6</text>
<text x="342" y="315.9" font-size="4.6" font-weight="bold" text-anchor="middle" fill="#111" stroke="#111" stroke-width="0.28" font-family="Liberation Serif, serif">10</text>
<text x="389.9" y="315.9" font-size="4.6" font-weight="bold" text-anchor="middle" fill="#111" stroke="#111" stroke-width="0.28" font-family="Liberation Serif, serif">20</text>
<text x="256" y="316" font-size="5.3" font-weight="bold" text-anchor="start" fill="#111" stroke="#111" stroke-width="0.28">E:T Ratio</text>
<text x="257.0" y="258.8" font-size="5.9" font-weight="bold" text-anchor="middle" fill="#111" stroke="#111" stroke-width="0.28" transform="rotate(-90 257.0 258.8)">% Specific lysis</text>
<rect x="272.8" y="188.6" width="3.7" height="3.7" fill="#fff" stroke="#333" stroke-width="0.6"/>
<text x="280" y="192.3" font-size="5.05" font-weight="bold" text-anchor="start" fill="#111" stroke="#111" stroke-width="0.28">ULBP4-EL4</text>
<rect x="272.8" y="196.29999999999998" width="3.7" height="3.7" fill="#111" stroke="#333" stroke-width="0.6"/>
<text x="280" y="200.0" font-size="5.05" font-weight="bold" text-anchor="start" fill="#111" stroke="#111" stroke-width="0.28">ULBP4-EL4 + ULBP4mAb</text>
<rect x="272.8" y="205.5" width="3.7" height="3.7" fill="#9a9a9a" stroke="#333" stroke-width="0.6"/>
<text x="280" y="209.20000000000002" font-size="5.05" font-weight="bold" text-anchor="start" fill="#111" stroke="#111" stroke-width="0.28">EL4</text>
<rect x="272.8" y="213.2" width="3.7" height="3.7" fill="url(#hatch2)" stroke="#333" stroke-width="0.6"/>
<text x="280" y="216.9" font-size="5.05" font-weight="bold" text-anchor="start" fill="#111" stroke="#111" stroke-width="0.28">EL4 + ULBP4mAb</text>
</svg></body></html>
